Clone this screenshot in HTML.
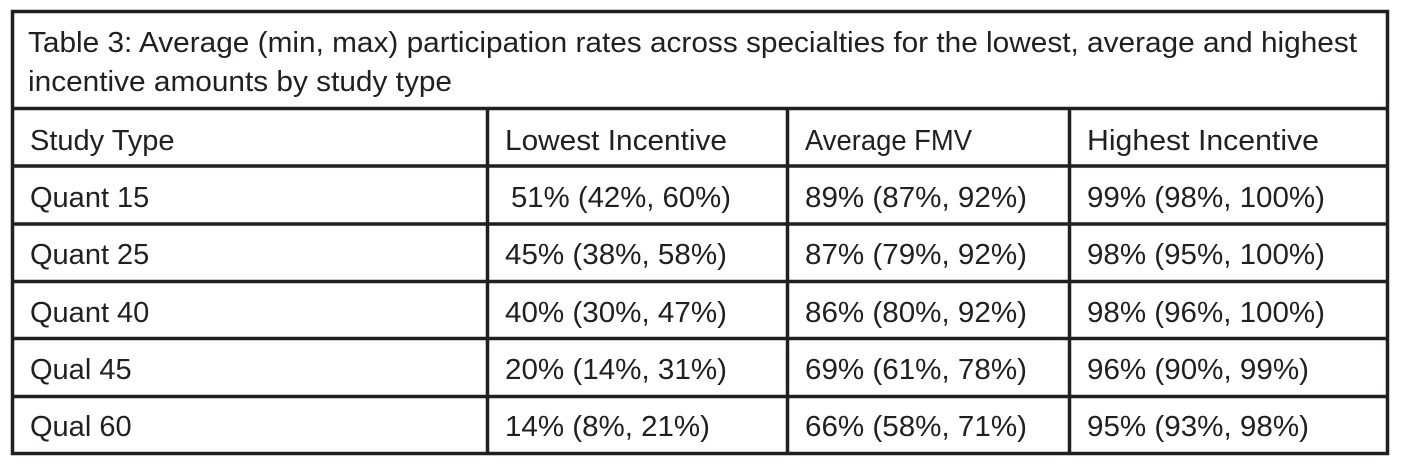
<!DOCTYPE html>
<html><head><meta charset="utf-8"><style>html,body{margin:0;padding:0;background:#fff;}</style></head>
<body>
<svg width="1405" height="467" xmlns="http://www.w3.org/2000/svg" font-family="Liberation Sans, sans-serif" font-size="29" fill="#231f20">
<rect x="0" y="0" width="1405" height="467" fill="#fff"/>
<g stroke="#231f20" stroke-width="3.5" fill="none">
<rect x="12.5" y="11.5" width="1375" height="442"/>
<line x1="12" y1="108.5" x2="1388" y2="108.5"/>
<line x1="12" y1="166" x2="1388" y2="166"/>
<line x1="12" y1="224" x2="1388" y2="224"/>
<line x1="12" y1="281.5" x2="1388" y2="281.5"/>
<line x1="12" y1="338.5" x2="1388" y2="338.5"/>
<line x1="12" y1="396.5" x2="1388" y2="396.5"/>
<line x1="487.5" y1="108" x2="487.5" y2="454"/>
<line x1="787.5" y1="108" x2="787.5" y2="454"/>
<line x1="1069.5" y1="108" x2="1069.5" y2="454"/>
</g>
<text x="28" y="52" textLength="1329" lengthAdjust="spacingAndGlyphs">Table 3: Average (min, max) participation rates across specialties for the lowest, average and highest</text>
<text x="28" y="91" textLength="424" lengthAdjust="spacingAndGlyphs">incentive amounts by study type</text>
<text x="30" y="150">Study Type</text>
<text x="505" y="150" textLength="222" lengthAdjust="spacingAndGlyphs">Lowest Incentive</text>
<text x="805" y="150" textLength="167" lengthAdjust="spacingAndGlyphs">Average FMV</text>
<text x="1087" y="150" textLength="232" lengthAdjust="spacingAndGlyphs">Highest Incentive</text>
<g>
<text x="30" y="207">Quant 15</text>
<text x="511" y="207" textLength="220" lengthAdjust="spacingAndGlyphs">51% (42%, 60%)</text>
<text x="805" y="207" textLength="222" lengthAdjust="spacingAndGlyphs">89% (87%, 92%)</text>
<text x="1087" y="207" textLength="238" lengthAdjust="spacingAndGlyphs">99% (98%, 100%)</text>
<text x="30" y="264">Quant 25</text>
<text x="505" y="264" textLength="222" lengthAdjust="spacingAndGlyphs">45% (38%, 58%)</text>
<text x="805" y="264" textLength="222" lengthAdjust="spacingAndGlyphs">87% (79%, 92%)</text>
<text x="1087" y="264" textLength="238" lengthAdjust="spacingAndGlyphs">98% (95%, 100%)</text>
<text x="30" y="322">Quant 40</text>
<text x="505" y="322" textLength="222" lengthAdjust="spacingAndGlyphs">40% (30%, 47%)</text>
<text x="805" y="322" textLength="222" lengthAdjust="spacingAndGlyphs">86% (80%, 92%)</text>
<text x="1087" y="322" textLength="238" lengthAdjust="spacingAndGlyphs">98% (96%, 100%)</text>
<text x="30" y="379">Qual 45</text>
<text x="505" y="379" textLength="222" lengthAdjust="spacingAndGlyphs">20% (14%, 31%)</text>
<text x="805" y="379" textLength="222" lengthAdjust="spacingAndGlyphs">69% (61%, 78%)</text>
<text x="1087" y="379" textLength="222" lengthAdjust="spacingAndGlyphs">96% (90%, 99%)</text>
<text x="30" y="436">Qual 60</text>
<text x="505" y="436" textLength="205" lengthAdjust="spacingAndGlyphs">14% (8%, 21%)</text>
<text x="805" y="436" textLength="222" lengthAdjust="spacingAndGlyphs">66% (58%, 71%)</text>
<text x="1087" y="436" textLength="222" lengthAdjust="spacingAndGlyphs">95% (93%, 98%)</text>
</g>
</svg>
</body></html>
